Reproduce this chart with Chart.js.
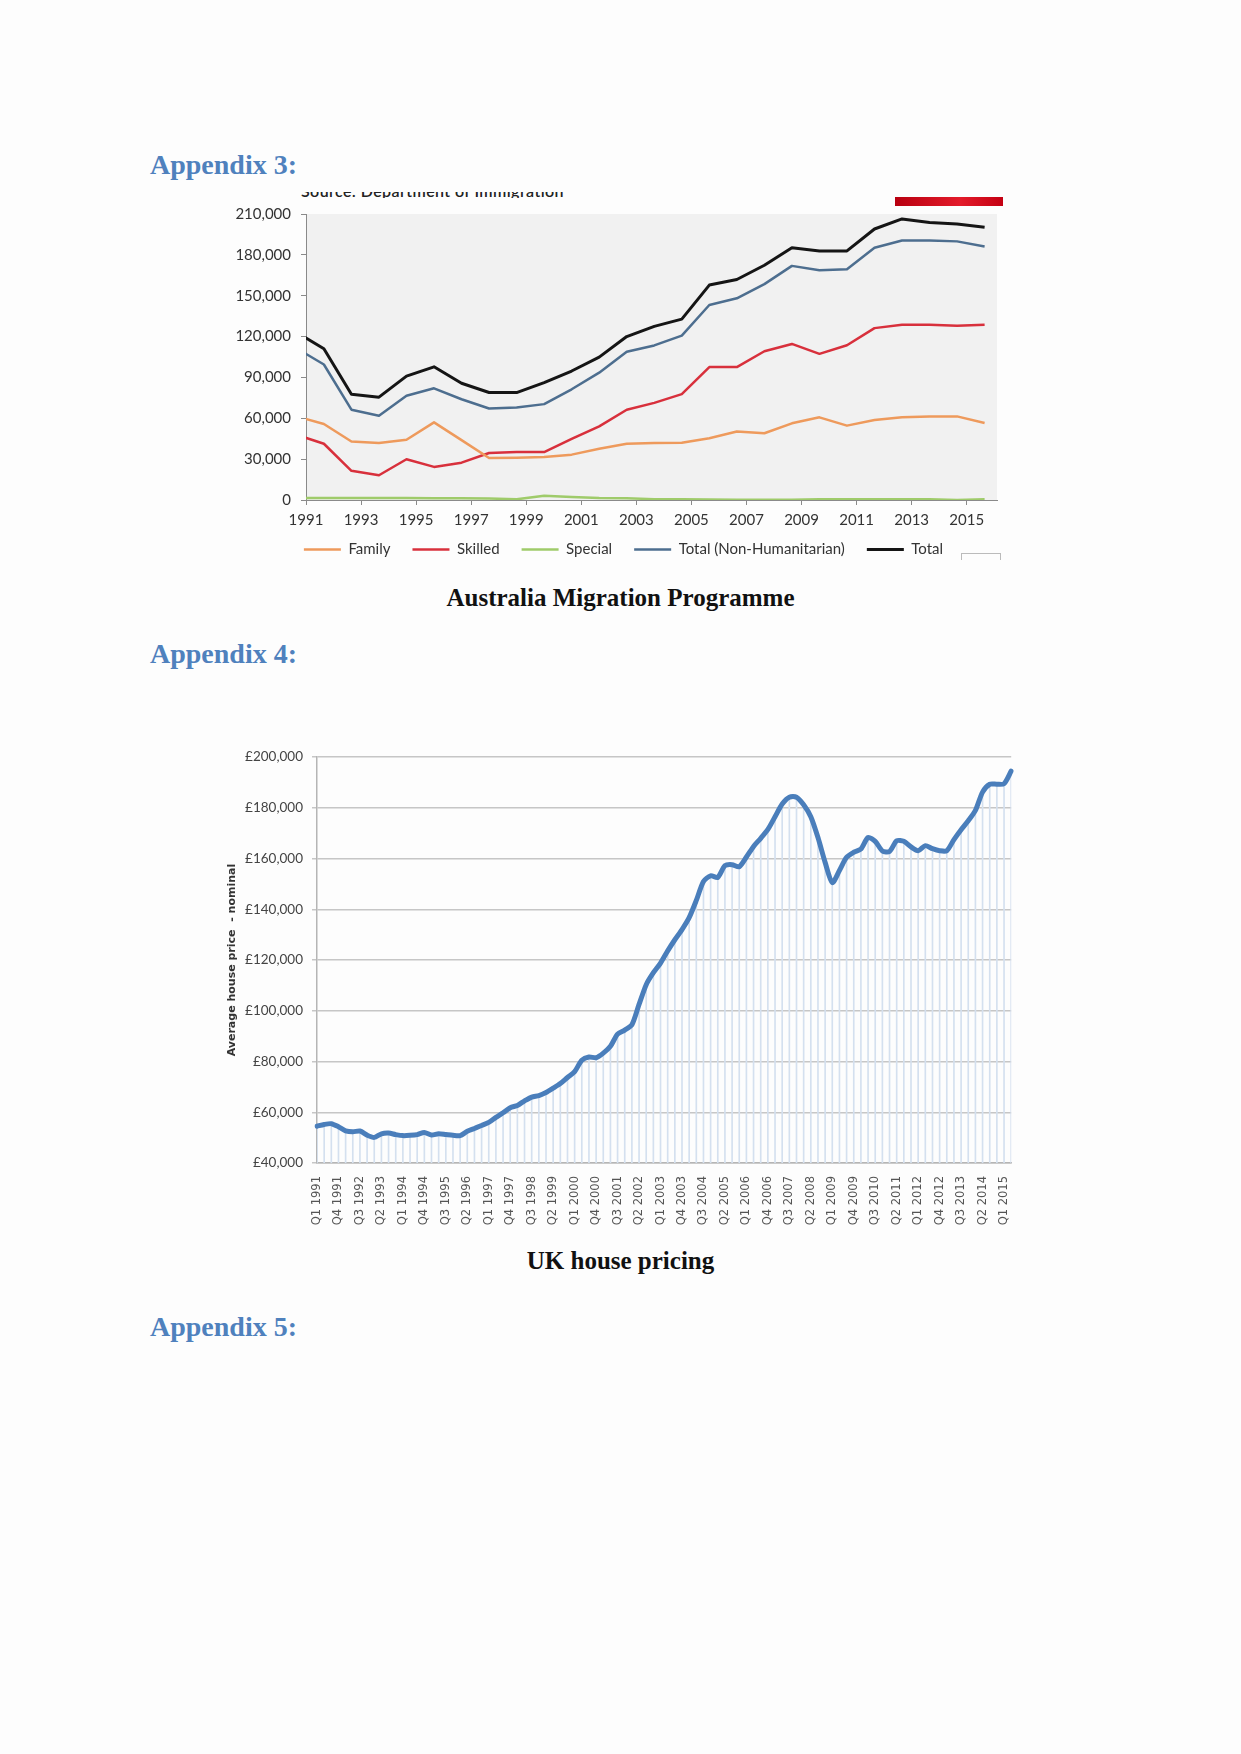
<!DOCTYPE html>
<html>
<head>
<meta charset="utf-8">
<script src="https://cdn.jsdelivr.net/npm/chart.js@4.4.0/dist/chart.umd.min.js"></script>
<style>
  body { margin: 0; width: 1241px; height: 1754px; background: #fdfdfd; position: relative; overflow: hidden; }
  .head { position: absolute; left: 150px; font: bold 28px "Liberation Serif", serif; line-height: 32px; color: #4f81bd; }
  .cap { position: absolute; left: 0; width: 1241px; text-align: center; font: bold 25px "Liberation Serif", serif; line-height: 28px; color: #111; }
  .src { position: absolute; left: 301px; top: 192px; height: 6px; overflow: hidden; white-space: nowrap; }
  .src div { margin-top: -10px; font: 600 16px Lato, sans-serif; letter-spacing: 0.4px; line-height: 18px; color: #222; }
  .redbar { position: absolute; left: 895px; top: 197px; width: 108px; height: 9px; background: linear-gradient(to right, #b80010, #e31b2a 60%, #c40012); }
  .icon { position: absolute; left: 961px; top: 553px; width: 38px; height: 6px; border: 1px solid #bbb; border-bottom: none; }
  canvas { position: absolute; }
</style>
</head>
<body>
<div class="head" style="top:149px">Appendix 3:</div>
<div class="src"><div>Source: Department of Immigration</div></div>
<div class="redbar"></div>
<canvas id="mig" width="790" height="383" style="left:220px;top:195px"></canvas>
<div class="icon"></div>
<div class="cap" style="top:584px">Australia Migration Programme</div>

<div class="head" style="top:638px">Appendix 4:</div>
<canvas id="house" width="815" height="495" style="left:215px;top:740px"></canvas>
<div class="cap" style="top:1247px">UK house pricing</div>

<div class="head" style="top:1311px">Appendix 5:</div>

<script>
// Appendix 3 - programme years (first one only shows as the clipped start of each line)
const migYears = [1990, 1991, 1992, 1993, 1994, 1995, 1996, 1997, 1998, 1999, 2000, 2001, 2002,
                  2003, 2004, 2005, 2006, 2007, 2008, 2009, 2010, 2011, 2012, 2013, 2014, 2015];
const migTickYears = [1991, 1993, 1995, 1997, 1999, 2001, 2003, 2005, 2007, 2009, 2011, 2013, 2015];

const family = [61500, 55800, 43000, 41800, 44200, 57000, 44000, 30800, 31100, 31600, 33300, 37600, 41300,
                41800, 42000, 45400, 50300, 49000, 56300, 60700, 54600, 58800, 60700, 61400, 61400, 56600];
const skilled = [47900, 41300, 21400, 18200, 29900, 24300, 27400, 34500, 35200, 35200, 44900, 54100, 66300,
                 71300, 77700, 97600, 97600, 109200, 114600, 107300, 113600, 126200, 128700, 128700, 127900, 128700];
const special = [1500, 1500, 1500, 1400, 1400, 1300, 1200, 1100, 500, 3200, 2200, 1500, 1300,
                 600, 500, 400, 200, 200, 200, 600, 600, 600, 600, 500, 0, 500];
const totalNonHum = [111500, 99500, 66300, 61900, 76500, 82000, 74000, 67200, 68000, 70400, 81300, 93500, 108800,
                     113500, 120700, 143200, 148100, 158500, 171900, 168700, 169500, 185200, 190600, 190600, 189900, 186200];
const total = [123300, 111000, 77700, 75500, 91000, 97800, 85700, 78900, 78900, 86200, 94700, 104900, 120000,
               127500, 132800, 157800, 161900, 172400, 185200, 182900, 182900, 199000, 206400, 203700, 202700, 200300];

// Appendix 4 - UK average house price, quarterly Q1 1991 .. Q2 2015
const houseTickLabels = ['Q1 1991', 'Q4 1991', 'Q3 1992', 'Q2 1993', 'Q1 1994', 'Q4 1994', 'Q3 1995', 'Q2 1996',
  'Q1 1997', 'Q4 1997', 'Q3 1998', 'Q2 1999', 'Q1 2000', 'Q4 2000', 'Q3 2001', 'Q2 2002', 'Q1 2003', 'Q4 2003',
  'Q3 2004', 'Q2 2005', 'Q1 2006', 'Q4 2006', 'Q3 2007', 'Q2 2008', 'Q1 2009', 'Q4 2009', 'Q3 2010', 'Q2 2011',
  'Q1 2012', 'Q4 2012', 'Q3 2013', 'Q2 2014', 'Q1 2015'];
const housePrice = [
  54500, 55200, 55500, 54300, 52700, 52300, 52600, 51000, 50100, 51500, 51800, 51200, 50800, 50900, 51200, 52000,
  51000, 51500, 51200, 50900, 50800, 52500, 53600, 54800, 56000, 58000, 59800, 61800, 62700, 64500, 66000, 66600,
  67800, 69500, 71300, 73700, 76000, 80500, 81800, 81500, 83300, 86000, 90800, 92400, 94500, 102500, 110300, 115000,
  118800, 123600, 128000, 132000, 136700, 143500, 151000, 153200, 152600, 157200, 157600, 156800, 160600, 164800, 168000, 171500,
  176500, 181500, 184200, 184200, 181200, 176500, 168300, 158500, 150500, 155300, 160500, 162500, 163800, 168300, 166800, 163000,
  162800, 167000, 166800, 164600, 163100, 165100, 163900, 163100, 163100, 167500, 171400, 174900, 179000, 186200, 189300, 189300,
  189500, 194500];

const quarters = [];
for (let y = 1991; quarters.length < housePrice.length; y++) {
  for (let q = 1; q <= 4 && quarters.length < housePrice.length; q++) quarters.push('Q' + q + ' ' + y);
}

Chart.defaults.font.family = 'Lato, sans-serif';
Chart.defaults.animation = false;

const plotBg = {
  id: 'plotBg',
  beforeDraw(chart, args, opts) {
    if (!opts.color) return;
    const { ctx, chartArea: a } = chart;
    ctx.save();
    ctx.fillStyle = opts.color;
    ctx.fillRect(a.left, a.top, a.right - a.left, a.bottom - a.top);
    ctx.restore();
  }
};

// legend sits a bit higher / further right than chart.js would put it
const legendShift = {
  id: 'legendShift',
  afterLayout(chart, args, opts) {
    const lg = chart.legend;
    if (!lg) return;
    lg.top += opts.dy || 0; lg.bottom += opts.dy || 0;
    lg.left += opts.dx || 0; lg.right += opts.dx || 0;
  }
};

// points sit inside each programme year
const pts = arr => arr.map((v, i) => ({ x: migYears[i] + 0.65, y: v }));
const lineDs = (label, arr, color, w) => ({
  label, data: pts(arr), borderColor: color, backgroundColor: color, borderWidth: w,
  pointRadius: 0, tension: 0, borderJoinStyle: 'round'
});

new Chart(document.getElementById('mig'), {
  type: 'line',
  data: {
    datasets: [
      lineDs('Family', family, '#ee9a5c', 2.5),
      lineDs('Skilled', skilled, '#d8303c', 2.5),
      lineDs('Special', special, '#9fcb6a', 2.5),
      lineDs('Total (Non-Humanitarian)', totalNonHum, '#4d6e8f', 2.5),
      lineDs('Total', total, '#151515', 3)
    ]
  },
  plugins: [plotBg, legendShift],
  options: {
    responsive: false,
    layout: { padding: { top: 16, right: 13, left: 0, bottom: 0 } },
    plugins: {
      plotBg: { color: '#f1f1f1' },
      legendShift: { dx: 15, dy: -11 },
      tooltip: { enabled: false },
      legend: {
        position: 'bottom',
        labels: {
          usePointStyle: true, pointStyle: 'line', pointStyleWidth: 37,
          font: { size: 15 }, color: '#333', padding: 22
        }
      }
    },
    scales: {
      x: {
        type: 'linear', min: 1991, max: 2016.1,
        afterBuildTicks: s => { s.ticks = migTickYears.map(v => ({ value: v })); },
        afterFit: s => { s.height = 31; },
        ticks: { callback: v => String(v), font: { size: 15 }, color: '#333', padding: 6, maxRotation: 0, autoSkip: false },
        grid: { drawOnChartArea: false, tickLength: 5, color: '#8a8a8a' },
        border: { color: '#8a8a8a' }
      },
      y: {
        min: 0, max: 210000,
        afterFit: s => { s.width = 86; },
        ticks: { stepSize: 30000, callback: v => v.toLocaleString('en-US'), font: { size: 15 }, color: '#333', padding: 10 },
        grid: { drawOnChartArea: false, tickLength: 5, color: '#8a8a8a' },
        border: { color: '#8a8a8a' }
      }
    }
  }
});

new Chart(document.getElementById('house'), {
  type: 'line',
  data: {
    labels: quarters,
    datasets: [
      {
        label: 'Average house price', data: housePrice, borderColor: '#4a7ebb', borderWidth: 5,
        pointRadius: 0, tension: 0.25, borderCapStyle: 'round', borderJoinStyle: 'round', order: 0
      },
      {
        type: 'bar', label: 'drop', data: housePrice, backgroundColor: '#d4e0ef',
        barThickness: 1, order: 1
      }
    ]
  },
  options: {
    responsive: false,
    layout: { padding: { top: 16, right: 14, left: 0, bottom: 0 } },
    plugins: { legend: { display: false }, tooltip: { enabled: false } },
    scales: {
      x: {
        offset: false,
        afterFit: s => { s.height = 72; },
        ticks: {
          autoSkip: false, minRotation: 90, maxRotation: 90, padding: 5,
          callback: (v, i) => houseTickLabels.includes(quarters[i]) ? quarters[i] : '',
          font: { family: 'DejaVu Sans', size: 11.5 }, color: '#555'
        },
        grid: { display: false },
        border: { color: '#b5b5b5', width: 1.5 }
      },
      y: {
        min: 40000, max: 200000,
        afterFit: s => { s.width = 102; },
        title: {
          display: true, text: 'Average house price  - nominal',
          font: { family: 'DejaVu Sans', size: 11, weight: 'bold' }, color: '#333',
          padding: { top: 11, bottom: 0 }
        },
        ticks: { stepSize: 20000, callback: v => '£' + v.toLocaleString('en-US'), font: { size: 13.5 }, color: '#444', padding: 9 },
        grid: { color: '#c6c6c6', lineWidth: 1.5, tickLength: 5 },
        border: { color: '#b5b5b5', width: 1.5 }
      }
    }
  }
});
</script>
</body>
</html>
